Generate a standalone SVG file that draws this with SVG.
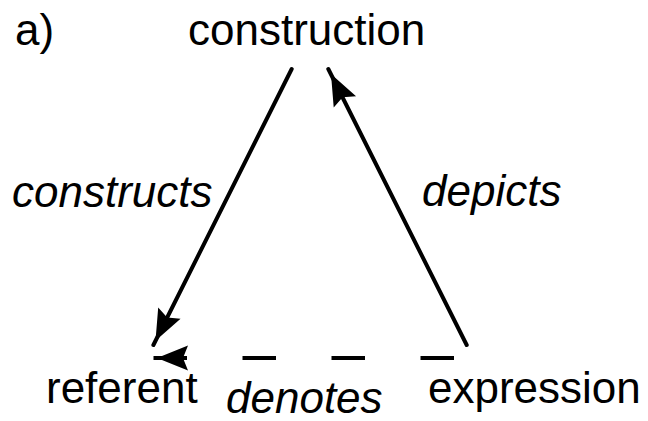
<svg xmlns="http://www.w3.org/2000/svg" width="648" height="421" viewBox="0 0 648 421">
<style>
  text { font-family: "Liberation Sans", Arial, Helvetica, sans-serif; font-size: 44px; fill: #000; }
  .it { font-style: italic; }
  .edge { stroke: #000; stroke-width: 4; fill: none; }
  .solid { stroke-linecap: round; }
  .dash { stroke-dasharray: 33.5 55.5; stroke-linecap: butt; }
  .head { fill: #000; stroke: none; }
</style>
<defs>
  <path id="ah" d="M0,0 L-31,-12.5 L-26,0 L-31,12.5 Z"/>
</defs>
<rect width="648" height="421" fill="#fff"/>
<g id="label-a"><text x="15" y="45">a)</text></g>
<g id="construction"><text x="188" y="45">construction</text></g>
<g id="referent"><text x="46" y="403">referent</text></g>
<g id="expression"><text x="428" y="403">expression</text></g>
<g id="connectors">
  <g id="constructs-edge">
    <line class="edge solid" x1="291.7" y1="69" x2="153.4" y2="345"/>
    <use href="#ah" class="head" transform="translate(155.5,340.8) rotate(116.6)"/>
    <text class="it" x="12" y="207">constructs</text>
  </g>
  <g id="depicts-edge">
    <line class="edge solid" x1="466.7" y1="345" x2="328.3" y2="69"/>
    <use href="#ah" class="head" transform="translate(331,74.1) rotate(-116.6)"/>
    <text class="it" x="422" y="206">depicts</text>
  </g>
  <g id="denotes-edge">
    <line class="edge dash" x1="454" y1="358" x2="153" y2="358"/>
    <use href="#ah" class="head" transform="translate(157,358) rotate(180)"/>
    <text class="it" x="226" y="413">denotes</text>
  </g>
</g>
</svg>
